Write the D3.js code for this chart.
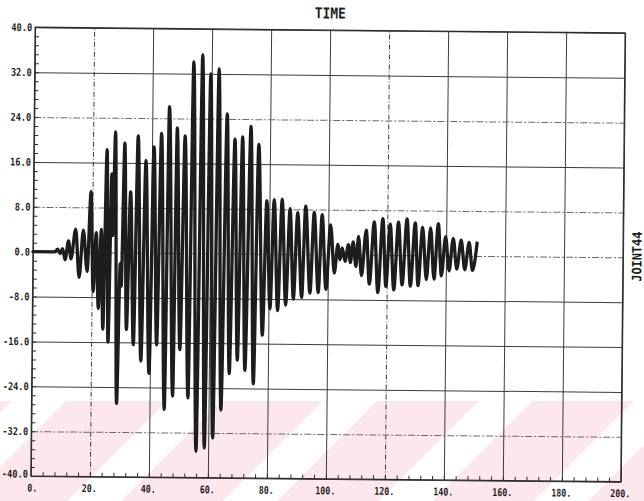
<!DOCTYPE html>
<html>
<head>
<meta charset="utf-8">
<script src="https://cdn.jsdelivr.net/npm/d3@7"></script>
<style>
  body { margin: 0; background: #ffffff; }
  svg { display: block; }
  text { font-family: "DejaVu Sans Mono", "Liberation Mono", monospace; font-weight: bold; fill: #1e1e1e; }
</style>
</head>
<body>
<script>
// Response history of JOINT44 against time: successive turning points of the trace.
const timeKnots = [
  0, 7.5, 8.3, 9.2, 10.0, 10.9, 12.0, 12.9, 14.4, 15.7, 17.0, 18.4,
  19.5, 20.5, 21.4, 22.3, 23.1, 23.9, 24.8, 25.7, 26.5, 27.0, 27.6, 28.8,
  29.6, 30.0, 30.8, 31.9, 32.9, 34.3, 35.3, 36.9, 38.0, 39.7, 40.7, 42.2,
  43.2, 45.0, 45.8, 47.8, 48.5, 50.1, 51.2, 53.0, 53.9, 55.9, 56.9, 58.7,
  59.7, 61.5, 62.5, 64.2, 65.4, 66.9, 68.1, 69.6, 70.7, 72.2, 73.5, 75.1,
  76.2, 78.0, 79.1, 80.5, 81.6, 83.1, 84.3, 85.8, 87.0, 88.4, 89.6, 91.2,
  92.3, 94.0, 95.2, 96.8, 97.9, 99.4, 100.8, 102.2, 103.3, 104.1, 104.8, 105.8,
  106.9, 107.6, 108.5, 109.5, 110.3, 111.4, 112.9, 114.1, 115.6, 117.0, 118.5, 119.7,
  121.0, 122.4, 123.8, 125.2, 126.7, 128.0, 129.5, 130.6, 132.0, 133.4, 134.7, 136.0,
  137.3, 138.5, 139.8, 141.1, 142.4, 143.7, 145.1, 146.4, 147.8, 149.0, 150.5
];
const jointValues = [
  0, 0, 0.5, -0.3, 0.6, -1.4, 2.0, -1.2, 4.1, -4.5, 3.9, -3.4,
  10.8, -7.0, 3.5, -10.0, 4.1, -13.7, 18.3, -16.0, 14.0, 3.0, 21.5, -26.9,
  -2.0, -6.0, 19.5, -13.7, 10.8, -16.4, 20.8, -19.3, 16.4, -21.5, 18.9, -16.4,
  21.3, -27.9, 26.1, -25.5, 22.3, -17.2, 20.9, -25.8, 34.1, -35.3, 35.4, -34.7,
  32.0, -32.9, 32.9, -27.9, 24.9, -21.4, 20.4, -19.0, 20.8, -20.8, 22.7, -23.2,
  19.5, -14.5, 9.5, -9.8, 9.7, -10.1, 9.8, -9.1, 8.1, -8.0, 7.4, -7.7,
  8.6, -6.9, 7.5, -6.8, 7.1, -6.2, 5.3, -3.3, 1.8, -0.9, 1.2, -1.2,
  1.8, -1.4, 2.3, -2.1, 3.3, -3.7, 4.4, -5.2, 5.9, -6.7, 6.5, -5.6,
  5.5, -6.2, 5.9, -5.3, 6.5, -5.5, 5.8, -5.4, 5.0, -4.3, 4.9, -4.2,
  5.7, -3.6, 3.4, -2.7, 3.1, -2.4, 2.8, -2.5, 2.4, -2.6, 2.3
];

const xTicks = [0, 20, 40, 60, 80, 100, 120, 140, 160, 180, 200];
const xTickLabels = ["0.", "20.", "40.", "60.", "80.", "100.", "120.", "140.", "160.", "180.", "200."];
const yTicks = [-40, -32, -24, -16, -8, 0, 8, 16, 24, 32, 40];
const yTickLabels = ["-40.0", "-32.0", "-24.0", "-16.0", "-8.0", "0.0", "8.0", "16.0", "24.0", "32.0", "40.0"];
const titleText = "TIME";
const seriesName = "JOINT44";

const W = 644, H = 501;
const plotL = 33, plotR = 623, plotT = 30.1, plotB = 478.9;

const x = d3.scaleLinear().domain([0, 200]).range([plotL, plotR]);
const y = d3.scaleLinear().domain([-40, 40]).range([plotB, plotT]);

const svg = d3.select("body").append("svg").attr("width", W).attr("height", H);

// pale pink diagonal banding along the lower edge of the sheet
const defs = svg.append("defs");
const band = defs.append("pattern")
  .attr("id", "band").attr("patternUnits", "userSpaceOnUse")
  .attr("width", 110).attr("height", 110)
  .attr("patternTransform", "rotate(45)");
band.append("rect").attr("width", 72).attr("height", 110).attr("fill", "#fce7ec");
svg.append("rect").attr("x", 0).attr("y", 401).attr("width", W).attr("height", H - 401)
  .attr("fill", "url(#band)");

// the plotted sheet sits very slightly turned
const g = svg.append("g").attr("transform", "rotate(0.55 328 254.5)");

const dashedX = new Set([20, 120]);
const dashedY = new Set([24, 8, 0, -32]);

// vertical grid lines with the time labels underneath
const gx = g.append("g").attr("transform", `translate(0,${plotB})`)
  .call(d3.axisBottom(x).tickValues(xTicks).tickSize(-(plotB - plotT)).tickPadding(8)
    .tickFormat((d, i) => xTickLabels[i]));
gx.select(".domain").remove();
gx.selectAll(".tick line")
  .attr("stroke", "#3c3c3c").attr("stroke-width", 1)
  .attr("stroke-dasharray", d => dashedX.has(d) ? "5,2,1,2" : null);
gx.selectAll(".tick text")
  .attr("x", d => d === 0 ? 1 : -1)
  .attr("font-size", 10.5).attr("font-family", null).attr("fill", "#1e1e1e")
  .attr("textLength", function () { return this.textContent.length * 5; })
  .attr("lengthAdjust", "spacingAndGlyphs");

// horizontal grid lines with the value labels on the left
const gy = g.append("g").attr("transform", `translate(${plotL},0)`)
  .call(d3.axisLeft(y).tickValues(yTicks).tickSize(-(plotR - plotL)).tickPadding(3)
    .tickFormat((d, i) => yTickLabels[i]));
gy.select(".domain").remove();
gy.selectAll(".tick line")
  .attr("stroke", d => dashedY.has(d) ? "#6a6a6a" : "#3c3c3c").attr("stroke-width", 1)
  .attr("stroke-dasharray", d => dashedY.has(d) ? "7,2,2,2" : null);
gy.selectAll(".tick text")
  .attr("dy", d => d === -40 ? "0.1em" : "0.32em")
  .attr("font-size", 10.5).attr("font-family", null).attr("fill", "#1e1e1e")
  .attr("textLength", function () { return this.textContent.length * 5.2; })
  .attr("lengthAdjust", "spacingAndGlyphs");

// minor ticks along the bottom and left edges
const mx = g.append("g").attr("transform", `translate(0,${plotB})`)
  .call(d3.axisBottom(x).tickValues(d3.range(4, 200, 4)).tickSize(-4).tickFormat(""));
mx.select(".domain").remove();
mx.selectAll("line").attr("stroke", "#2a2a2a");
const my = g.append("g").attr("transform", `translate(${plotL},0)`)
  .call(d3.axisLeft(y).tickValues(d3.range(-38.4, 40, 1.6)).tickSize(-4).tickFormat(""));
my.select(".domain").remove();
my.selectAll("line").attr("stroke", "#2a2a2a");

// plot frame
g.append("rect").attr("x", plotL).attr("y", plotT)
  .attr("width", plotR - plotL).attr("height", plotB - plotT)
  .attr("fill", "none").attr("stroke", "#2c2c2c").attr("stroke-width", 1.3);

// response trace
const trace = d3.line()
  .x((d, i) => x(timeKnots[i]))
  .y(d => y(d))
  .curve(d3.curveMonotoneX);
g.append("path").datum(jointValues)
  .attr("d", trace)
  .attr("fill", "none").attr("stroke", "#1b1e1b").attr("stroke-width", 3.3)
  .attr("stroke-linejoin", "round").attr("stroke-linecap", "round");

// title and series name
g.append("text").attr("x", (plotL + plotR) / 2).attr("y", 18.5)
  .attr("text-anchor", "middle").attr("font-size", 15)
  .attr("textLength", 31).attr("lengthAdjust", "spacingAndGlyphs")
  .text(titleText);
g.append("text").attr("transform", "translate(641.5,253.7) rotate(-90)")
  .attr("text-anchor", "middle").attr("font-size", 13)
  .attr("textLength", 50).attr("lengthAdjust", "spacingAndGlyphs")
  .text(seriesName);
</script>
</body>
</html>
